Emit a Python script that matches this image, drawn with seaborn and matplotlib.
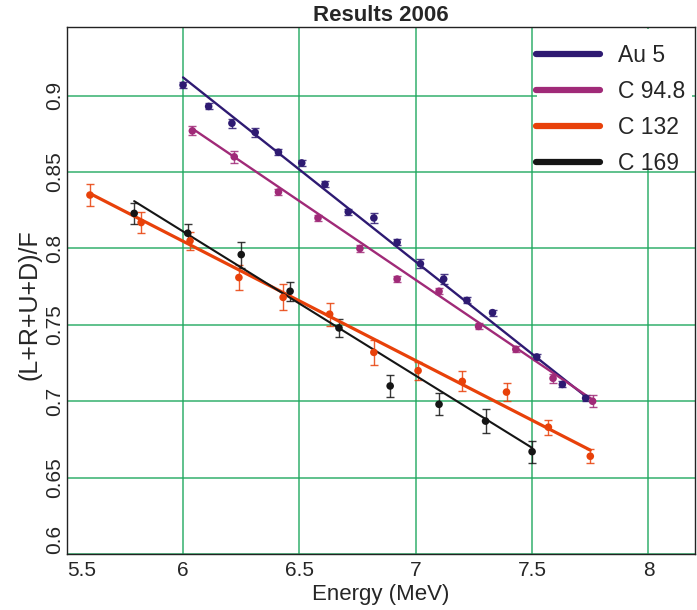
import numpy as np
import pandas as pd
import matplotlib
matplotlib.use("Agg")
import matplotlib.pyplot as plt
from matplotlib.lines import Line2D
from matplotlib.patches import Rectangle
import seaborn as sns

# ---------------- data ----------------
series = ["Au 5", "C 94.8", "C 132", "C 169"]
colors = ["#2e1a72", "#a02a78", "#e8410a", "#151515"]

au_x = [6.00, 6.11, 6.21, 6.31, 6.41, 6.51, 6.61, 6.71, 6.82, 6.92, 7.02, 7.12, 7.22, 7.33, 7.52, 7.63, 7.73]
au_y = [0.907, 0.893, 0.882, 0.876, 0.863, 0.856, 0.842, 0.824, 0.820, 0.804, 0.790, 0.780, 0.766, 0.758, 0.729, 0.711, 0.702]
au_err = [0.002, 0.002, 0.003, 0.003, 0.002, 0.002, 0.002, 0.002, 0.003, 0.002, 0.003, 0.003, 0.002, 0.002, 0.002, 0.002, 0.002]

c948_x = [6.04, 6.22, 6.41, 6.58, 6.76, 6.92, 7.10, 7.27, 7.43, 7.59, 7.76]
c948_y = [0.877, 0.860, 0.837, 0.820, 0.800, 0.780, 0.772, 0.749, 0.734, 0.715, 0.700]
c948_err = [0.003, 0.004, 0.002, 0.002, 0.002, 0.002, 0.002, 0.002, 0.002, 0.003, 0.004]

c132_x = [5.60, 5.82, 6.03, 6.24, 6.43, 6.63, 6.82, 7.01, 7.20, 7.39, 7.57, 7.75]
c132_y = [0.835, 0.817, 0.805, 0.781, 0.768, 0.757, 0.732, 0.720, 0.713, 0.706, 0.683, 0.664]
c132_err = [0.0075, 0.0068, 0.006, 0.008, 0.0085, 0.0076, 0.0082, 0.006, 0.0065, 0.0057, 0.005, 0.0046]

c169_x = [5.79, 6.02, 6.25, 6.46, 6.67, 6.89, 7.10, 7.30, 7.50]
c169_y = [0.823, 0.810, 0.796, 0.772, 0.748, 0.710, 0.698, 0.687, 0.667]
c169_err = [0.0068, 0.006, 0.0085, 0.0063, 0.0058, 0.007, 0.0072, 0.0078, 0.0072]

# linear fit lines (end points)
au_fit_x = [6.00, 7.74]
au_fit_y = [0.912, 0.702]
c948_fit_x = [6.04, 7.76]
c948_fit_y = [0.8785, 0.701]
c132_fit_x = [5.60, 7.75]
c132_fit_y = [0.836, 0.668]
c169_fit_x = [5.79, 7.50]
c169_fit_y = [0.831, 0.6695]

x_ticks = [5.5, 6, 6.5, 7, 7.5, 8]
x_tick_labels = ["5.5", "6", "6.5", "7", "7.5", "8"]
y_ticks = [0.6, 0.65, 0.7, 0.75, 0.8, 0.85, 0.9]
y_tick_labels = ["0.6", "0.65", "0.7", "0.75", "0.8", "0.85", "0.9"]

# ---------------- build tables ----------------
pts = pd.concat([
    pd.DataFrame({"E": au_x, "R": au_y, "err": au_err, "series": series[0]}),
    pd.DataFrame({"E": c948_x, "R": c948_y, "err": c948_err, "series": series[1]}),
    pd.DataFrame({"E": c132_x, "R": c132_y, "err": c132_err, "series": series[2]}),
    pd.DataFrame({"E": c169_x, "R": c169_y, "err": c169_err, "series": series[3]}),
], ignore_index=True)

fits = pd.concat([
    pd.DataFrame({"E": au_fit_x, "R": au_fit_y, "series": series[0]}),
    pd.DataFrame({"E": c948_fit_x, "R": c948_fit_y, "series": series[1]}),
    pd.DataFrame({"E": c132_fit_x, "R": c132_fit_y, "series": series[2]}),
    pd.DataFrame({"E": c169_fit_x, "R": c169_fit_y, "series": series[3]}),
], ignore_index=True)

palette = dict(zip(series, colors))
line_w = {"Au 5": 1.7, "C 94.8": 1.7, "C 132": 2.3, "C 169": 1.5}

# ---------------- style ----------------
sns.set_style("white")
plt.rcParams["font.family"] = ["Liberation Sans", "DejaVu Sans"]

fig = plt.figure(figsize=(6.97, 6.10), dpi=100)
L, R, B, T = 66.7, 695, 554, 27
W, H = R - L, B - T
ax = fig.add_axes([L / 697, 1 - B / 610, W / 697, H / 610])

ax.set_xlim(5.5, 8.2)
ax.set_ylim(0.6, 0.945)

ax.grid(True, color="#1fa85e", linewidth=1.1, alpha=0.9)
ax.set_axisbelow(True)

# white panel behind the legend (hides grid there)
ax.add_patch(Rectangle(((537 - L) / W, 1 - (170 - T) / H), (692 - 537) / W, (170 - 29) / H,
                       transform=ax.transAxes, facecolor="white", edgecolor="none", zorder=1.5))

# error bars
for s in series:
    d = pts[pts.series == s]
    ax.errorbar(d.E, d.R, yerr=d.err, fmt="none", ecolor=palette[s],
                elinewidth=1.0, capsize=3, capthick=1.0, alpha=0.85, zorder=3)

# fit lines
for s in series:
    sns.lineplot(data=fits[fits.series == s], x="E", y="R", color=palette[s],
                 linewidth=line_w[s], ax=ax, legend=False, zorder=4)

# data points
sns.scatterplot(data=pts, x="E", y="R", hue="series", palette=palette,
                s=30, edgecolor="none", ax=ax, legend=False, zorder=5)

# ticks
ax.set_xticks(x_ticks)
ax.set_xticklabels(x_tick_labels, fontsize=15)
ax.set_yticks(y_ticks)
ax.set_yticklabels(y_tick_labels, fontsize=15, rotation=90, va="center")
ax.tick_params(axis="x", length=0, pad=5)
ax.tick_params(axis="y", length=0, pad=2)
ax.get_xticklabels()[0].set_horizontalalignment("left")
ax.get_yticklabels()[0].set_verticalalignment("bottom")

for sp in ax.spines.values():
    sp.set_color("#222222")
    sp.set_linewidth(1.0)

ax.set_xlabel("Energy (MeV)", fontsize=16, labelpad=3)
ax.set_ylabel("(L+R+U+D)/F", fontsize=18)
ax.yaxis.set_label_coords(-(L - 30) / W - 0.0, (B - 305) / H)
ax.yaxis.label.set_verticalalignment("center")
ax.set_title("Results 2006", fontsize=16, fontweight="bold", pad=4)

handles = [Line2D([0], [0], color=c, linewidth=4.5) for c in colors]
leg = ax.legend(handles, series, loc="upper left",
                bbox_to_anchor=((536 - L) / W, 1 - (44 - T) / H),
                fontsize=16.5, frameon=False,
                borderpad=0.0, borderaxespad=0,
                handlelength=2.8, handletextpad=0.8, labelspacing=0.57)
leg.set_zorder(6)

fig.savefig("out.png", dpi=100)
